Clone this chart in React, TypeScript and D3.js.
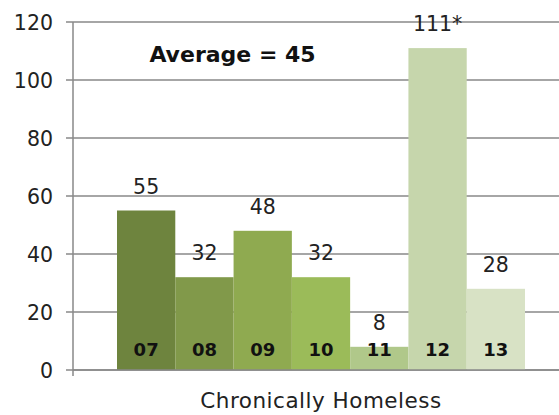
import React from "react";
import * as d3 from "d3";

const categories = ["07", "08", "09", "10", "11", "12", "13"];
const values = [55, 32, 48, 32, 8, 111, 28];
const valueLabels = ["55", "32", "48", "32", "8", "111*", "28"];
const colors = ["#6E843E", "#81994A", "#8FAA50", "#9BBB59", "#B0C88A", "#C6D6AC", "#D8E2C5"];
const yTicks = [0, 20, 40, 60, 80, 100, 120];
const xTitle = "Chronically Homeless";
const note = "Average = 45";

export default function App() {
  const W = 559, H = 415;
  const left = 73, top = 22, bottom = 370;
  const font = "'DejaVu Sans', sans-serif";
  const y = d3.scaleLinear().domain([0, 120]).range([bottom, top]);
  const x = d3.scaleBand().domain(categories).range([117, 525]).paddingInner(0).paddingOuter(0);
  return (
    <svg width={W} height={H} style={{ position: "absolute", left: 0, top: 0, background: "#fff" }}>
      {yTicks.map((t) => (
        <g key={t}>
          <line x1={66} x2={W} y1={y(t)} y2={y(t)} stroke="#888" strokeWidth={1.5} />
          <text x={53} y={y(t) + 7.5} textAnchor="end" fontFamily={font} fontSize={20.5} fill="#222">{t}</text>
        </g>
      ))}
      <line x1={left} x2={left} y1={top} y2={bottom + 6} stroke="#888" strokeWidth={1.5} />
      {categories.map((c, i) => (
        <g key={c}>
          <rect x={x(c)!} y={y(values[i])} width={x.bandwidth()} height={bottom - y(values[i])} fill={colors[i]} />
          <text x={x(c)! + x.bandwidth() / 2} y={y(values[i]) - 17} textAnchor="middle" fontFamily={font} fontSize={20.5} fill="#222">{valueLabels[i]}</text>
          <text x={x(c)! + x.bandwidth() / 2} y={356} textAnchor="middle" fontFamily={font} fontWeight="bold" fontSize={18} fill="#111">{c}</text>
        </g>
      ))}
      <line x1={left} x2={W} y1={bottom} y2={bottom} stroke="#888" strokeWidth={1.5} />
      <text x={232.5} y={62} textAnchor="middle" fontFamily={font} fontWeight="bold" fontSize={22} fill="#111">{note}</text>
      <text x={(117 + 525) / 2} y={408} textAnchor="middle" fontFamily={font} fontSize={21.5} letterSpacing={0.5} fill="#222">{xTitle}</text>
    </svg>
  );
}
